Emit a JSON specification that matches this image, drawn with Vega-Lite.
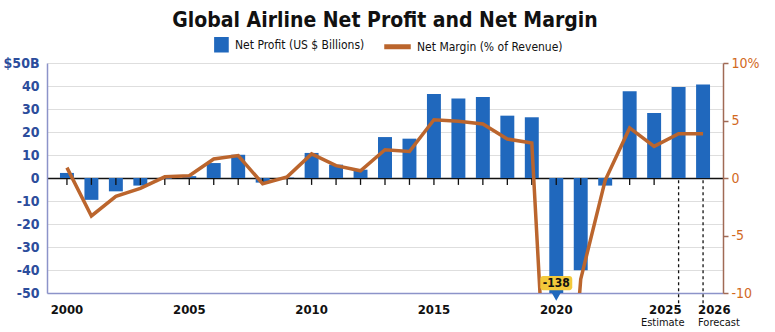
{
  "$schema": "https://vega.github.io/schema/vega-lite/v6.json",
  "width": 676,
  "height": 230,
  "autosize": {"type": "none"},
  "padding": {"left": 47, "top": 63, "right": 52, "bottom": 39},
  "background": "white",
  "title": {"text": "Global Airline Net Profit and Net Margin", "font": "DejaVu Sans Condensed, Roboto", "fontSize": 21, "fontWeight": "bold", "color": "#111111", "anchor": "middle", "offset": 0},
  "data": {"values": [
    {"year": 2000, "profit": 2.2, "margin": 0.9},
    {"year": 2001, "profit": -9.5, "margin": -3.3},
    {"year": 2002, "profit": -5.8, "margin": -1.6},
    {"year": 2003, "profit": -3.3, "margin": -0.9},
    {"year": 2004, "profit": -0.4, "margin": 0.1},
    {"year": 2005, "profit": 0.8, "margin": 0.2},
    {"year": 2006, "profit": 6.5, "margin": 1.65},
    {"year": 2007, "profit": 10.1, "margin": 1.95},
    {"year": 2008, "profit": -2.0, "margin": -0.5},
    {"year": 2009, "profit": 0.2, "margin": 0.1},
    {"year": 2010, "profit": 10.9, "margin": 2.1},
    {"year": 2011, "profit": 5.8, "margin": 1.07},
    {"year": 2012, "profit": 3.6, "margin": 0.63},
    {"year": 2013, "profit": 17.8, "margin": 2.46},
    {"year": 2014, "profit": 17.1, "margin": 2.3},
    {"year": 2015, "profit": 36.5, "margin": 5.07},
    {"year": 2016, "profit": 34.6, "margin": 4.93},
    {"year": 2017, "profit": 35.2, "margin": 4.7},
    {"year": 2018, "profit": 27.1, "margin": 3.39},
    {"year": 2019, "profit": 26.4, "margin": 3.05},
    {"year": 2020, "profit": -138, "margin": -36.0, "callout": "-138"},
    {"year": 2021, "profit": -40.1, "margin": -8.8},
    {"year": 2022, "profit": -3.3, "margin": -0.2},
    {"year": 2023, "profit": 37.7, "margin": 4.35},
    {"year": 2024, "profit": 28.3, "margin": 2.75},
    {"year": 2025, "profit": 39.6, "margin": 3.85, "note": "Estimate"},
    {"year": 2026, "profit": 40.7, "margin": 3.85, "note": "Forecast"}
  ]},
  "encoding": {
    "x": {"field": "year", "type": "ordinal", "scale": {"paddingInner": 0.43, "paddingOuter": 0.53},
      "axis": {"title": null, "ticks": false, "labelAngle": 0,
        "labelExpr": "indexof([2000, 2005, 2010, 2015, 2020, 2025, 2026], +datum.value) >= 0 ? '' + datum.value : ''",
        "labelFont": "DejaVu Sans Condensed, Roboto", "labelFontSize": 13, "labelFontWeight": "bold", "labelColor": "#111111",
        "labelPadding": 10, "labelOverlap": false, "domainColor": "#8c93c9", "domainWidth": 1.5,
        "labelAlign": {"condition": [{"test": "datum.value == 2025", "value": "right"}, {"test": "datum.value == 2026", "value": "left"}], "value": "center"},
        "labelOffset": {"condition": [{"test": "datum.value == 2025", "value": 3}, {"test": "datum.value == 2026", "value": -5}], "value": 0}}}
  },
  "layer": [
    {
      "layer": [
        {
          "mark": {"type": "bar", "clip": true},
          "encoding": {
            "y": {"field": "profit", "type": "quantitative", "scale": {"domain": [-50, 50], "nice": false, "zero": false},
              "axis": {"values": [-50, -40, -30, -20, -10, 0, 10, 20, 30, 40, 50], "title": null, "grid": true,
                "gridColor": {"condition": {"test": "datum.value === 0", "value": "#111111"}, "value": "#dedede"},
                "gridWidth": {"condition": {"test": "datum.value === 0", "value": 1.6}, "value": 1.2},
                "ticks": false, "labelPadding": 8, "labelFlush": false, "labelOverlap": false, "domainColor": "#8c93c9", "domainWidth": 1.5,
                "labelFont": "DejaVu Sans Condensed, Roboto", "labelFontSize": 14, "labelFontWeight": "bold", "labelColor": "#2c4d9c",
                "labelExpr": "datum.value == 50 ? '$50B' : '' + datum.value"}},
            "color": {"datum": "Net Profit (US $ Billions)", "type": "nominal",
              "scale": {"domain": ["Net Profit (US $ Billions)", "Net Margin (% of Revenue)"], "range": ["#2068bd", "#bb652d"]},
              "legend": {"orient": "none", "legendX": 155, "legendY": -32, "direction": "horizontal", "title": null, "padding": 0,
                "labelFont": "DejaVu Sans Condensed, Roboto", "labelFontSize": 12, "labelColor": "#111111", "symbolSize": 625,
                "columnPadding": 17, "labelOffset": 6, "labelLimit": 400,
                "encode": {"symbols": {"update": {
                  "shape": {"signal": "datum.value === 'Net Profit (US $ Billions)' ? 'M-0.05,-0.56H1V0.56H-0.05Z' : 'M-1,-0.14H1V0.14H-1Z'"},
                  "fill": {"scale": "color", "field": "value"},
                  "stroke": {"value": "transparent"},
                  "opacity": {"value": 1}}}}}}
          }
        },
        {
          "transform": [{"filter": "datum.year <= 2024"}],
          "mark": {"type": "rule", "color": "#111111", "strokeWidth": 1.3},
          "encoding": {
            "y": {"datum": 0,
              "axis": {"values": [-50, -40, -30, -20, -10, 0, 10, 20, 30, 40, 50], "title": null, "grid": true,
                "gridColor": {"condition": {"test": "datum.value === 0", "value": "#111111"}, "value": "#dedede"},
                "gridWidth": {"condition": {"test": "datum.value === 0", "value": 1.6}, "value": 1.2},
                "ticks": false, "labelPadding": 8, "labelFlush": false, "labelOverlap": false, "domainColor": "#8c93c9", "domainWidth": 1.5,
                "labelFont": "DejaVu Sans Condensed, Roboto", "labelFontSize": 14, "labelFontWeight": "bold", "labelColor": "#2c4d9c",
                "labelExpr": "datum.value == 50 ? '$50B' : '' + datum.value"}},
            "y2": {"datum": -3}
          }
        },
        {
          "transform": [{"filter": "datum.year >= 2025"}],
          "mark": {"type": "rule", "color": "#111111", "strokeWidth": 1.3, "strokeDash": [3, 3]},
          "encoding": {
            "y": {"datum": -1,
              "axis": {"values": [-50, -40, -30, -20, -10, 0, 10, 20, 30, 40, 50], "title": null, "grid": true,
                "gridColor": {"condition": {"test": "datum.value === 0", "value": "#111111"}, "value": "#dedede"},
                "gridWidth": {"condition": {"test": "datum.value === 0", "value": 1.6}, "value": 1.2},
                "ticks": false, "labelPadding": 8, "labelFlush": false, "labelOverlap": false, "domainColor": "#8c93c9", "domainWidth": 1.5,
                "labelFont": "DejaVu Sans Condensed, Roboto", "labelFontSize": 14, "labelFontWeight": "bold", "labelColor": "#2c4d9c",
                "labelExpr": "datum.value == 50 ? '$50B' : '' + datum.value"}},
            "y2": {"datum": -56}
          }
        },
        {
          "transform": [{"filter": "datum.note"}],
          "mark": {"type": "text", "baseline": "middle", "dy": 30, "font": "DejaVu Sans Condensed, Roboto", "fontSize": 11, "color": "#111111",
            "align": {"expr": "datum.year == 2025 ? 'right' : 'left'"},
            "dx": {"expr": "datum.year == 2025 ? 6 : -5"}},
          "encoding": {
            "y": {"datum": -50,
              "axis": {"values": [-50, -40, -30, -20, -10, 0, 10, 20, 30, 40, 50], "title": null, "grid": true,
                "gridColor": {"condition": {"test": "datum.value === 0", "value": "#111111"}, "value": "#dedede"},
                "gridWidth": {"condition": {"test": "datum.value === 0", "value": 1.6}, "value": 1.2},
                "ticks": false, "labelPadding": 8, "labelFlush": false, "labelOverlap": false, "domainColor": "#8c93c9", "domainWidth": 1.5,
                "labelFont": "DejaVu Sans Condensed, Roboto", "labelFontSize": 14, "labelFontWeight": "bold", "labelColor": "#2c4d9c",
                "labelExpr": "datum.value == 50 ? '$50B' : '' + datum.value"}},
            "text": {"field": "note"}
          }
        }
      ]
    },
    {
      "mark": {"type": "line", "clip": true, "strokeWidth": 3.5},
      "encoding": {
        "y": {"field": "margin", "type": "quantitative", "scale": {"domain": [-10, 10], "nice": false, "zero": false},
          "axis": {"orient": "right", "values": [-10, -5, 0, 5, 10], "title": null, "grid": false, "labelFlush": false, "labelOverlap": false,
            "labelExpr": "datum.value == 10 ? '10%' : '' + datum.value",
            "labelFont": "DejaVu Sans Condensed, Roboto", "labelFontSize": 14, "labelColor": "#d2691e",
            "ticks": true, "tickColor": "#a06a55", "tickSize": 5, "tickWidth": 1.5, "domainColor": "#a06a55", "domainWidth": 1.5, "labelPadding": 3}},
        "color": {"datum": "Net Margin (% of Revenue)", "type": "nominal"}
      }
    },
    {
      "transform": [{"filter": "datum.year == 2020"}],
      "layer": [
        {
          "mark": {"type": "point", "shape": "triangle-down", "filled": true, "size": 170, "color": "#2068bd", "opacity": 1, "yOffset": 2},
          "encoding": {
            "y": {"datum": -50, "scale": {"domain": [-50, 50], "nice": false, "zero": false}, "axis": null}
          }
        },
        {
          "mark": {"type": "point", "shape": "M-0.82,-0.44H0.82A0.18,0.18 0 0 1 1,-0.26V0.26A0.18,0.18 0 0 1 0.82,0.44H-0.82A0.18,0.18 0 0 1 -1,0.26V-0.26A0.18,0.18 0 0 1 -0.82,-0.44Z", "filled": true, "size": 1024, "color": "#f3c93b", "opacity": 1},
          "encoding": {
            "y": {"datum": -45.7, "axis": null}
          }
        },
        {
          "mark": {"type": "text", "font": "DejaVu Sans Condensed, Roboto", "fontSize": 12, "fontWeight": "bold", "color": "#111111", "baseline": "middle"},
          "encoding": {
            "y": {"datum": -45.7, "axis": null},
            "text": {"field": "callout"}
          }
        }
      ]
    }
  ],
  "resolve": {"scale": {"y": "independent"}},
  "config": {"view": {"stroke": null}, "axis": {"labelOverlap": false}}
}
